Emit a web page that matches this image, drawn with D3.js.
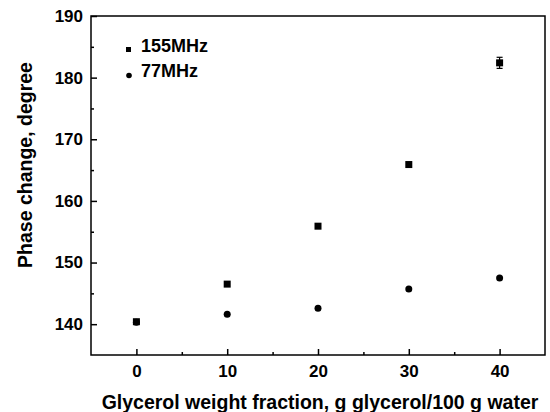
<!DOCTYPE html>
<html>
<head>
<meta charset="utf-8">
<script src="https://cdn.jsdelivr.net/npm/d3@7"></script>
<style>
  html, body { margin: 0; padding: 0; background: #fff; }
  svg { display: block; font-family: "Liberation Sans", Arial, sans-serif; font-weight: bold; }
</style>
</head>
<body>
<svg id="chart" width="550" height="412"></svg>
<script>
// Glycerol weight fraction (g glycerol / 100 g water)
const fractions = [0, 10, 20, 30, 40];
// Phase change at 155 MHz and 77 MHz (degrees)
const phase155 = [140.4, 146.5, 155.9, 165.9, 182.4];
const err155 = [0, 0, 0, 0, 0.9];
const phase77 = [140.3, 141.6, 142.6, 145.7, 147.5];
const xTicks = [0, 10, 20, 30, 40];
const yTicks = [140, 150, 160, 170, 180, 190];
const seriesNames = ["155MHz", "77MHz"];

const FONT = "Liberation Sans, Arial, sans-serif";
const svg = d3.select("#chart");
const m = { left: 91, top: 16, right: 545, bottom: 355 };

const x = d3.scaleLinear().domain([-5, 45]).range([m.left, m.right]);
const y = d3.scaleLinear().domain([135, 190]).range([m.bottom, m.top]);

// frame
svg.append("rect")
  .attr("x", m.left).attr("y", m.top)
  .attr("width", m.right - m.left).attr("height", m.bottom - m.top)
  .attr("fill", "none").attr("stroke", "#000").attr("stroke-width", 1.5);

// bottom axis: inward major + minor ticks
const xAxis = d3.axisBottom(x).tickValues(xTicks).tickSize(-6).tickPadding(10).tickFormat(d3.format("d"));
const gx = svg.append("g").attr("transform", `translate(0,${m.bottom})`).call(xAxis);
gx.select(".domain").remove();
gx.selectAll("line").attr("stroke-width", 1.5);
gx.selectAll("text").attr("font-size", 17).attr("font-weight", "bold").attr("fill", "#000")
  .attr("font-family", FONT);
const gxm = svg.append("g").attr("transform", `translate(0,${m.bottom})`)
  .call(d3.axisBottom(x).tickValues([5, 15, 25, 35]).tickSize(-3).tickFormat(""));
gxm.select(".domain").remove();
gxm.selectAll("line").attr("stroke-width", 1.5);

// left axis: inward major + minor ticks
const yAxis = d3.axisLeft(y).tickValues(yTicks).tickSize(-6).tickPadding(8).tickFormat(d3.format("d"));
const gy = svg.append("g").attr("transform", `translate(${m.left},0)`).call(yAxis);
gy.select(".domain").remove();
gy.selectAll("line").attr("stroke-width", 1.5);
gy.selectAll("text").attr("font-size", 17).attr("font-weight", "bold").attr("fill", "#000")
  .attr("font-family", FONT);
const gym = svg.append("g").attr("transform", `translate(${m.left},0)`)
  .call(d3.axisLeft(y).tickValues([145, 155, 165, 175, 185]).tickSize(-3).tickFormat(""));
gym.select(".domain").remove();
gym.selectAll("line").attr("stroke-width", 1.5);

// axis titles
svg.append("text")
  .attr("x", 320).attr("y", 409)
  .attr("text-anchor", "middle").attr("font-size", 19.5)
  .text("Glycerol weight fraction, g glycerol/100 g water");
svg.append("text")
  .attr("transform", "translate(32,165) rotate(-90)")
  .attr("text-anchor", "middle").attr("font-size", 19.5)
  .text("Phase change, degree");

// 77 MHz circles
svg.append("g").selectAll("circle")
  .data(fractions.map((f, i) => ({ f, v: phase77[i] })))
  .join("circle")
  .attr("cx", d => x(d.f)).attr("cy", d => y(d.v)).attr("r", 3.5).attr("fill", "#000");

// 155 MHz error bars
const eb = svg.append("g").attr("stroke", "#000").attr("stroke-width", 1.2);
fractions.forEach((f, i) => {
  if (err155[i] > 0) {
    const cx = x(f);
    eb.append("line").attr("x1", cx).attr("x2", cx)
      .attr("y1", y(phase155[i] + err155[i])).attr("y2", y(phase155[i] - err155[i]));
    [phase155[i] + err155[i], phase155[i] - err155[i]].forEach(v => {
      eb.append("line").attr("x1", cx - 3).attr("x2", cx + 3).attr("y1", y(v)).attr("y2", y(v));
    });
  }
});

// 155 MHz squares
svg.append("g").selectAll("rect")
  .data(fractions.map((f, i) => ({ f, v: phase155[i] })))
  .join("rect")
  .attr("x", d => x(d.f) - 3.5).attr("y", d => y(d.v) - 3.5)
  .attr("width", 7).attr("height", 7).attr("fill", "#000");

// legend
const lg = svg.append("g");
lg.append("rect").attr("x", 126).attr("y", 47).attr("width", 5).attr("height", 5).attr("fill", "#000");
lg.append("circle").attr("cx", 129).attr("cy", 75.5).attr("r", 2.8).attr("fill", "#000");
lg.append("text").attr("x", 141).attr("y", 52).attr("font-size", 18).text(seriesNames[0]);
lg.append("text").attr("x", 141).attr("y", 77).attr("font-size", 18).text(seriesNames[1]);
</script>
</body>
</html>
